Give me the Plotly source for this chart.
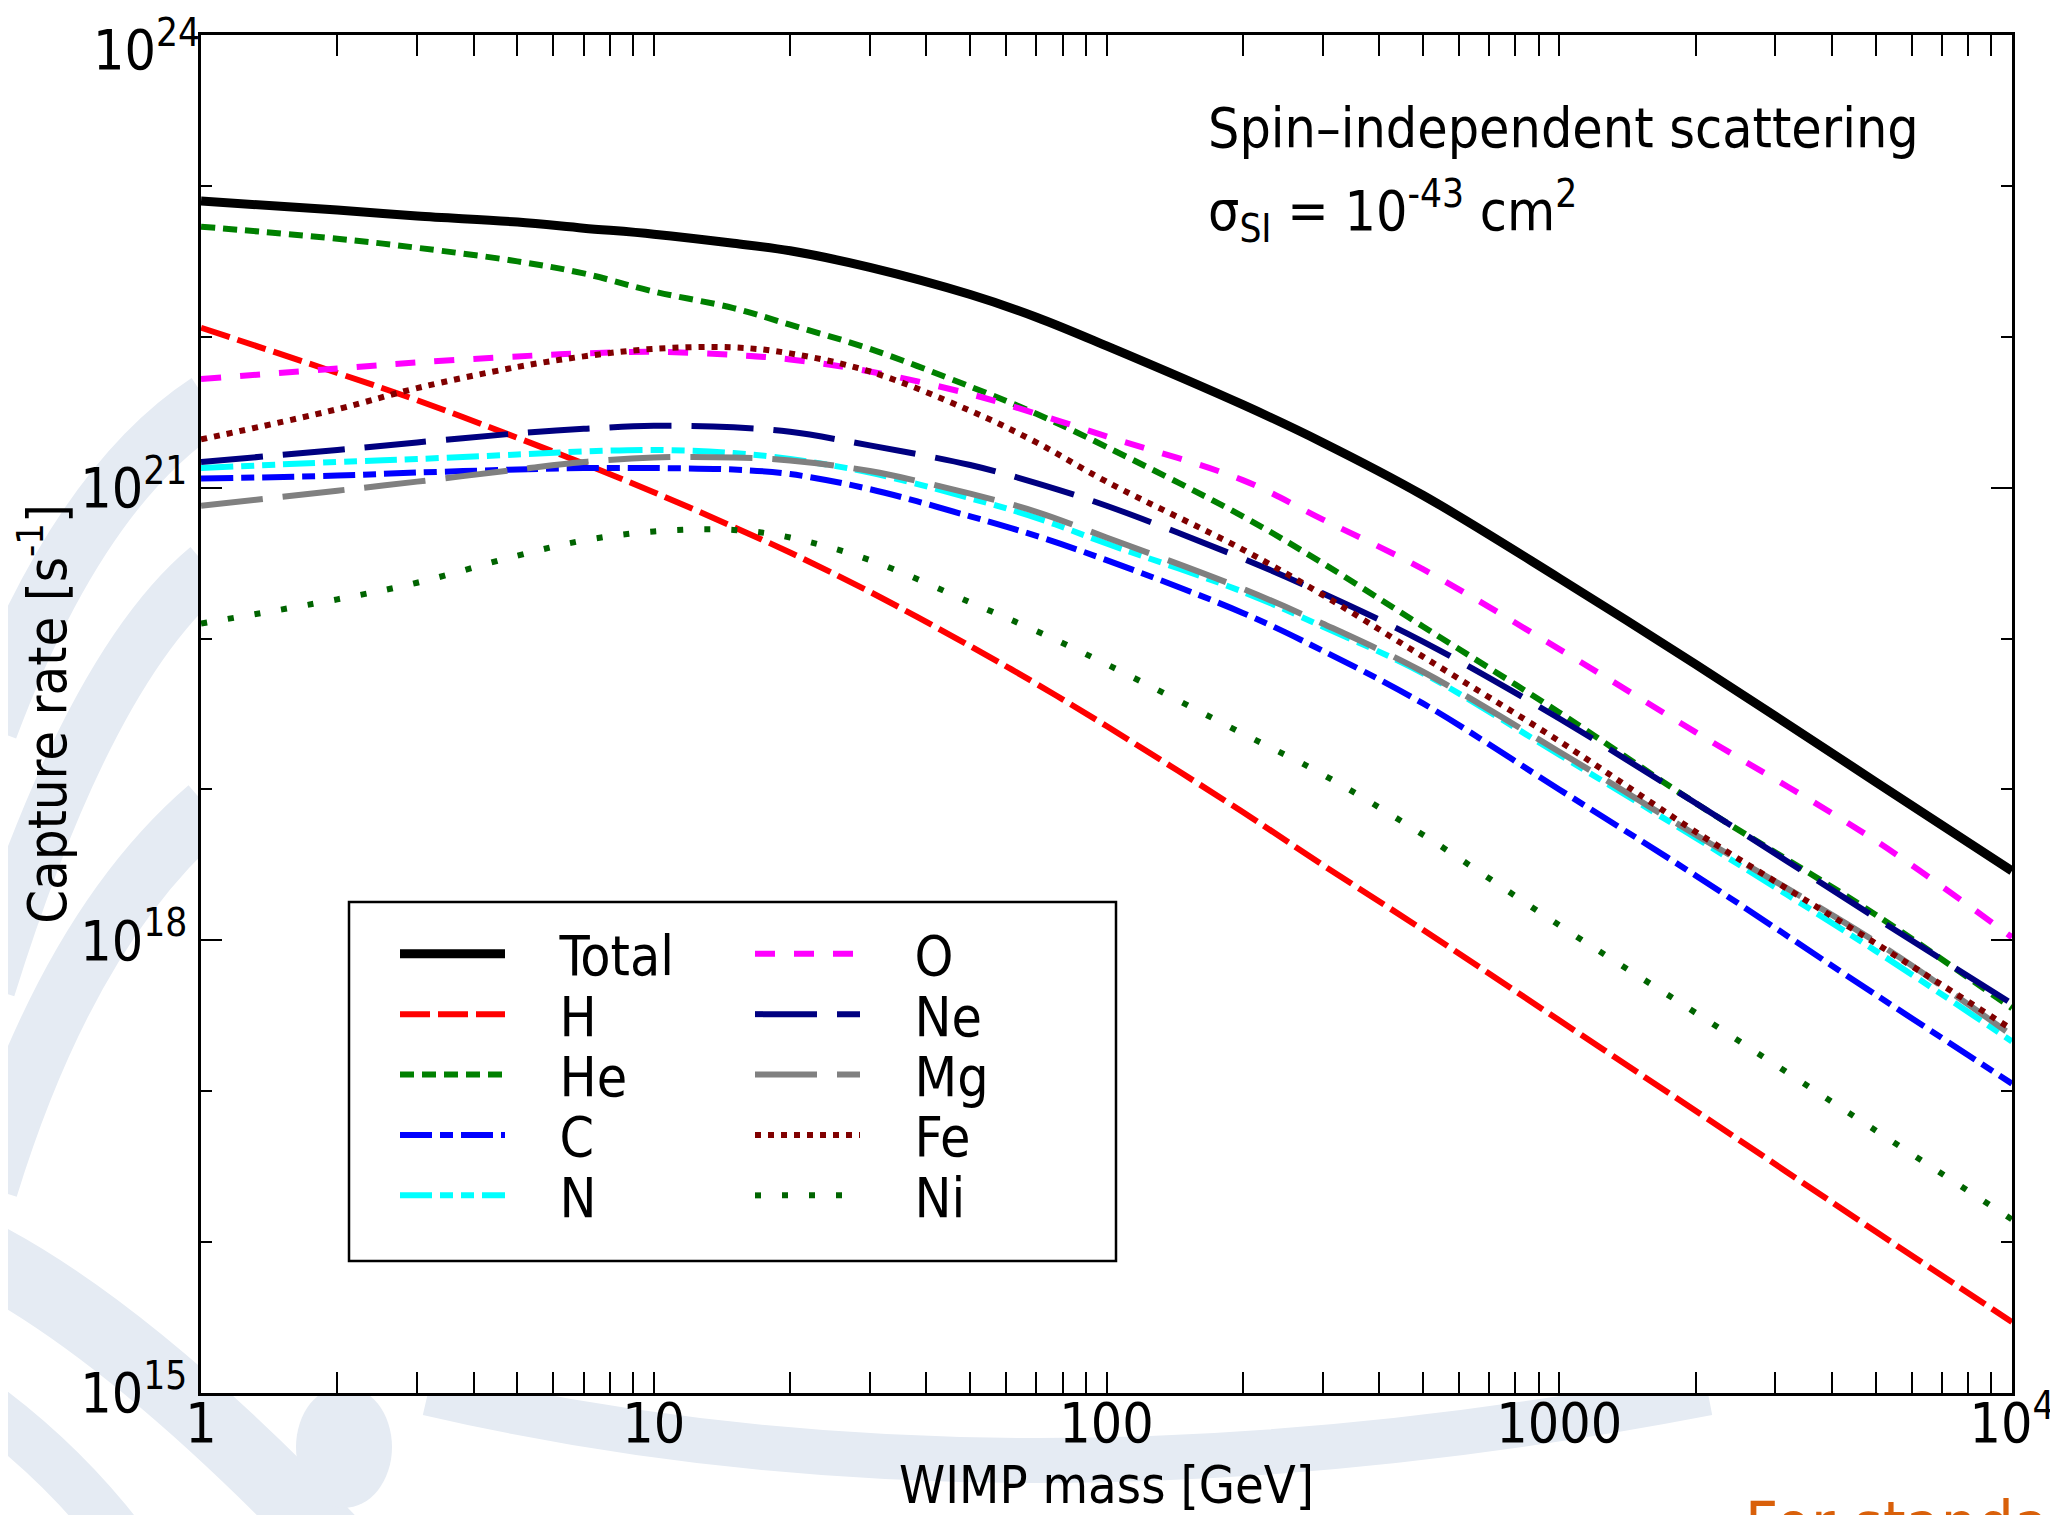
import plotly.graph_objects as go

# ---------------- data (values are log10 of capture rate in s^-1) -------------
mass = [1, 2, 3, 5, 7, 10, 15, 20, 30, 50, 70, 100, 200, 300, 500, 1000, 2000, 5000, 10000]

log_total = [22.90, 22.84, 22.80, 22.76, 22.72, 22.68, 22.62, 22.57, 22.46, 22.28, 22.13, 21.94, 21.55, 21.30, 20.95, 20.40, 19.83, 19.05, 18.46]
log_H     = [22.06, 21.76, 21.58, 21.33, 21.16, 20.97, 20.74, 20.57, 20.31, 19.95, 19.70, 19.42, 18.85, 18.50, 18.07, 17.47, 16.87, 16.07, 15.47]
log_He    = [22.73, 22.65, 22.59, 22.50, 22.42, 22.30, 22.19, 22.08, 21.92, 21.67, 21.49, 21.27, 20.81, 20.50, 20.08, 19.51, 18.91, 18.17, 17.55]
log_C     = [21.06, 21.08, 21.10, 21.12, 21.13, 21.13, 21.12, 21.09, 20.99, 20.81, 20.68, 20.52, 20.17, 19.92, 19.57, 19.00, 18.43, 17.64, 17.05]
log_N     = [21.13, 21.17, 21.19, 21.22, 21.24, 21.25, 21.23, 21.19, 21.10, 20.93, 20.80, 20.63, 20.31, 20.08, 19.77, 19.23, 18.68, 17.93, 17.33]
log_O     = [21.72, 21.79, 21.83, 21.87, 21.89, 21.90, 21.88, 21.85, 21.77, 21.62, 21.49, 21.34, 21.05, 20.79, 20.46, 19.93, 19.38, 18.66, 18.02]
log_Ne    = [21.17, 21.25, 21.30, 21.36, 21.39, 21.41, 21.40, 21.37, 21.28, 21.15, 21.03, 20.88, 20.53, 20.30, 19.98, 19.47, 18.91, 18.15, 17.58]
log_Mg    = [20.88, 20.98, 21.04, 21.12, 21.17, 21.20, 21.20, 21.18, 21.11, 20.96, 20.84, 20.67, 20.33, 20.10, 19.78, 19.25, 18.70, 17.99, 17.37]
log_Fe    = [21.32, 21.52, 21.66, 21.80, 21.87, 21.92, 21.93, 21.89, 21.77, 21.51, 21.30, 21.04, 20.59, 20.29, 19.88, 19.32, 18.72, 17.98, 17.41]
log_Ni    = [20.10, 20.26, 20.37, 20.55, 20.65, 20.71, 20.72, 20.67, 20.52, 20.24, 20.05, 19.83, 19.37, 19.10, 18.70, 18.10, 17.52, 16.74, 16.15]

series_names = ["Total", "H", "He", "C", "N", "O", "Ne", "Mg", "Fe", "Ni"]
series_logs = [log_total, log_H, log_He, log_C, log_N, log_O, log_Ne, log_Mg, log_Fe, log_Ni]

x_tick_vals = [1, 10, 100, 1000, 10000]
x_tick_text = ["1", "10", "100", "1000", "10<sup>4</sup>"]
x_minor_vals = [m * d for d in (1, 10, 100, 1000) for m in range(2, 10)]
y_tick_vals = [1e15, 1e18, 1e21, 1e24]
y_tick_text = ["10<sup>15</sup>", "10<sup>18</sup>", "10<sup>21</sup>", "10<sup>24</sup>"]
y_minor_vals = [1e16, 1e17, 1e19, 1e20, 1e22, 1e23]

# ---------------- styles ----------------
FONT = "DejaVu Sans Condensed, Liberation Sans Narrow, DejaVu Sans, sans-serif"
styles = {
    "Total": dict(color="#000000", width=9, dash="solid"),
    "H":     dict(color="#ff0000", width=6, dash="30px,8px"),
    "He":    dict(color="#008000", width=6, dash="14px,8px"),
    "C":     dict(color="#0000ff", width=6, dash="32px,8px,13px,8px"),
    "N":     dict(color="#00ffff", width=6, dash="32px,8px,13px,8px,13px,8px"),
    "O":     dict(color="#ff00ff", width=6, dash="20px,19px"),
    "Ne":    dict(color="#000080", width=6, dash="62px,20px"),
    "Mg":    dict(color="#808080", width=6, dash="62px,20px"),
    "Fe":    dict(color="#800000", width=6, dash="6px,7px"),
    "Ni":    dict(color="#006400", width=6, dash="6px,21px"),
}

# ---------------- geometry helpers (pixel -> paper) ----------------
W, H = 2058, 1515
L, R, T, B = 193, 54, 27, 130
PW, PH = W - L - R, H - T - B


def px(x):
    return (x - L) / PW


def py(y):
    return (H - B - y) / PH


GAP = "\u2002\u2002"  # spacing between legend sample and label
fig = go.Figure()
legend_layouts = {}
for i, (name, logs) in enumerate(zip(series_names, series_logs)):
    st = styles[name]
    lg = "legend" if i == 0 else f"legend{i + 1}"
    col, row = divmod(i, 5)
    legend_layouts[lg] = dict(
        x=px(387 if col == 0 else 742), y=py(946 + 60.4 * row), xanchor="left", yanchor="middle",
        bgcolor="rgba(0,0,0,0)", borderwidth=0, font=dict(size=55, family=FONT),
        itemwidth=105, tracegroupgap=0,
    )
    fig.add_trace(go.Scatter(
        x=mass, y=[10 ** v for v in logs], name=GAP + name, mode="lines",
        line=dict(color=st["color"], width=st["width"], dash=st["dash"], shape="spline", smoothing=1.0),
        legend=lg,
    ))

# empty helper trace so the overlay axis (carrying the top tick label) is drawn
fig.add_trace(go.Scatter(x=[], y=[], yaxis="y2", showlegend=False, hoverinfo="skip"))


def curve(x0, y0, cx, cy, x1, y1):
    return f"M {px(x0):.4f},{py(y0):.4f} Q {px(cx):.4f},{py(cy):.4f} {px(x1):.4f},{py(y1):.4f}"


WM = "#e5ebf3"
shapes = []
# faint background watermark (decoration in the margins)
for (x0, y0, cx, cy, x1, y1, w) in [
    (200, 395, 70, 480, -20, 720, 60),
    (200, 560, 80, 660, -20, 980, 55),
    (200, 800, 60, 920, -20, 1180, 60),
    (-20, 1250, 130, 1330, 330, 1540, 70),
    (-20, 1400, 60, 1460, 120, 1540, 50),
    (420, 1385, 1000, 1520, 1700, 1385, 45),
]:
    shapes.append(dict(type="path", xref="paper", yref="paper", path=curve(x0, y0, cx, cy, x1, y1),
                       line=dict(color=WM, width=w), layer="below"))
shapes.append(dict(type="circle", xref="paper", yref="paper", x0=px(288), x1=px(384), y0=py(1500), y1=py(1378),
                   fillcolor=WM, line=dict(width=0), layer="below"))
# white plot area over the watermark
shapes.append(dict(type="rect", xref="paper", yref="paper", x0=0, x1=1, y0=0, y1=1,
                   fillcolor="white", line=dict(width=0), layer="below"))
# legend frame
shapes.append(dict(type="rect", xref="paper", yref="paper", x0=px(341), x1=px(1108), y0=py(1253), y1=py(894),
                   fillcolor="white", line=dict(color="black", width=2.5), layer="above"))

annotations = [
    dict(text="Spin–independent scattering", x=px(1198), y=py(120), xref="paper", yref="paper",
         xanchor="left", yanchor="middle", showarrow=False, font=dict(size=55, family=FONT)),
    dict(text="σ<sub>SI</sub> = 10<sup>-43</sup> cm<sup>2</sup>", x=px(1198), y=py(203), xref="paper", yref="paper",
         xanchor="left", yanchor="middle", showarrow=False, font=dict(size=55, family=FONT)),
    dict(text="For standard", x=px(1735), y=py(1478), xref="paper", yref="paper",
         xanchor="left", yanchor="top", showarrow=False, font=dict(size=64, family=FONT, color="#d9600a")),
]

axis_common = dict(
    type="log", showline=True, linecolor="black", linewidth=2.5, mirror="allticks",
    ticks="inside", ticklen=21, tickwidth=2, tickcolor="black", showgrid=False, zeroline=False,
    tickfont=dict(size=55, family=FONT), automargin=False, ticklabeloverflow="allow",
)
Y_RANGE = [14.9999, 24.0001]

fig.update_layout(
    template="none",
    width=W, height=H,
    margin=dict(l=L, r=R, t=T, b=B, pad=0),
    paper_bgcolor="white", plot_bgcolor="rgba(0,0,0,0)",
    font=dict(family=FONT, size=50, color="black"),
    xaxis=dict(**axis_common, range=[-0.0001, 4.0001], tickmode="array", tickvals=x_tick_vals, ticktext=x_tick_text,
               ticklabelstandoff=-20,
               minor=dict(ticks="inside", ticklen=11, tickwidth=2, tickcolor="black", tickmode="array",
                          tickvals=x_minor_vals, showgrid=False),
               title=dict(text="WIMP mass [GeV]", font=dict(size=52, family=FONT), standoff=0)),
    yaxis=dict(**axis_common, range=Y_RANGE, tickmode="array", tickvals=y_tick_vals,
               ticktext=y_tick_text[:-1] + [""],
               minor=dict(ticks="inside", ticklen=11, tickwidth=2, tickcolor="black", tickmode="array",
                          tickvals=y_minor_vals, showgrid=False),
               title=dict(text="Capture rate [s<sup>-1</sup>]", font=dict(size=54, family=FONT), standoff=6)),
    # overlay axis that only carries the top label, nudged down so it stays inside the page (as in the original)
    yaxis2=dict(type="log", overlaying="y", side="left", range=Y_RANGE, tickmode="array",
                tickvals=y_tick_vals[-1:], ticktext=y_tick_text[-1:], ticks="", showline=False, showgrid=False,
                zeroline=False, tickfont=dict(size=55, family=FONT), ticklabelshift=15,
                ticklabeloverflow="allow", automargin=False),
    showlegend=True,
    shapes=shapes,
    annotations=annotations,
    **legend_layouts,
)

fig.write_html("out.html")
